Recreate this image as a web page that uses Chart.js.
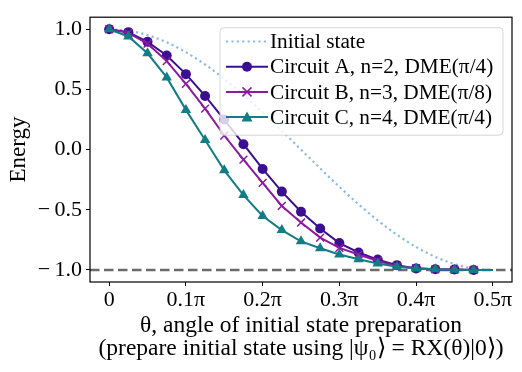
<!DOCTYPE html>
<html>
<head>
<meta charset="utf-8">
<script src="https://cdn.jsdelivr.net/npm/chart.js@4.4.0/dist/chart.umd.min.js"></script>
<style>
    html, body { margin: 0; padding: 0; background: #fff; }
    #wrap { width: 522px; height: 372px; }
</style>
</head>
<body>
<div id="wrap"><canvas id="energyChart" width="522" height="372"></canvas></div>
<script>
// theta, in units of pi
const thetas = [0, 0.025, 0.05, 0.075, 0.1, 0.125, 0.15, 0.175, 0.2, 0.225, 0.25,
    0.275, 0.3, 0.325, 0.35, 0.375, 0.4, 0.425, 0.45, 0.475, 0.5];

const initialState = [1.0, 0.988, 0.951, 0.891, 0.809, 0.707, 0.588, 0.454, 0.309, 0.156, 0.0,
    -0.156, -0.309, -0.454, -0.588, -0.707, -0.809, -0.891, -0.951, -0.988, -1.0];
const circuitA = [1.0, 0.976, 0.895, 0.782, 0.627, 0.446, 0.25, 0.045, -0.161, -0.349, -0.516,
    -0.656, -0.777, -0.855, -0.914, -0.96, -0.987, -0.994, -0.996, -1.0, -1.0];
const circuitB = [1.0, 0.97, 0.88, 0.735, 0.546, 0.34, 0.117, -0.083, -0.277, -0.468, -0.606,
    -0.731, -0.817, -0.871, -0.925, -0.968, -0.985, -0.995, -0.998, -1.0, -1.0];
const circuitC = [1.0, 0.94, 0.80, 0.60, 0.33, 0.08, -0.172, -0.378, -0.552, -0.669, -0.762,
    -0.82, -0.871, -0.911, -0.946, -0.973, -0.987, -0.995, -0.998, -1.0, -1.0];

const seriesLabels = ['Initial state', 'Circuit A, n=2, DME(π/4)', 'Circuit B, n=3, DME(π/8)', 'Circuit C, n=4, DME(π/4)'];
const groundEnergy = -1.0;

const xTicks = [0, 0.1, 0.2, 0.3, 0.4, 0.5];
const xTickLabels = ['0', '0.1π', '0.2π', '0.3π', '0.4π', '0.5π'];
const yTicks = [-1.0, -0.5, 0.0, 0.5, 1.0];
const yTickLabels = ['−\u20091.0', '−\u20090.5', '0.0', '0.5', '1.0'];

const FONT = "'Liberation Serif', 'Times New Roman', serif";
const COLORS = {
    initial: '#8bbde3',
    a: '#3b0f92',
    b: '#8b1a9e',
    c: '#137c85',
    ground: '#6b6b6b'
};

const toPoints = ys => ys.map((y, i) => ({ x: thetas[i], y: y }));
// no marker on the last sample
const markerSize = r => ctx => (ctx.dataIndex === thetas.length - 1 ? 0 : r);

// dashed ground-state line + frame
const extrasPlugin = {
    id: 'extras',
    beforeDatasetsDraw(chart) {
        const { ctx, chartArea } = chart;
        const y = chart.scales.y.getPixelForValue(groundEnergy);
        ctx.save();
        ctx.strokeStyle = COLORS.ground;
        ctx.lineWidth = 2.5;
        ctx.setLineDash([9.5, 4.5]);
        ctx.beginPath();
        ctx.moveTo(chartArea.left, y);
        ctx.lineTo(chartArea.right, y);
        ctx.stroke();
        ctx.restore();
    },
    afterDatasetsDraw(chart) {
        const { ctx, chartArea } = chart;
        ctx.save();
        ctx.strokeStyle = '#000';
        ctx.lineWidth = 1.2;
        ctx.strokeRect(chartArea.left, chartArea.top, chartArea.right - chartArea.left, chartArea.bottom - chartArea.top);
        ctx.restore();
    }
};

// legend box drawn by hand (matplotlib style, over the data)
const legendPlugin = {
    id: 'mplLegend',
    afterDraw(chart) {
        const { ctx, chartArea } = chart;
        const right = chartArea.right - 9;
        const top = chartArea.top + 10.5;
        const left = right - 283;
        const bottom = top + 107.5;
        ctx.save();
        ctx.beginPath();
        ctx.roundRect(left, top, right - left, bottom - top, 4);
        ctx.fillStyle = 'rgba(255,255,255,0.8)';
        ctx.fill();
        ctx.strokeStyle = 'rgba(204,204,204,0.8)';
        ctx.lineWidth = 1;
        ctx.stroke();

        chart.data.datasets.forEach((ds, i) => {
            const y = top + 13.8 + i * 25.2;
            const x0 = left + 6;
            const x1 = x0 + 42;
            ctx.strokeStyle = ds.borderColor;
            ctx.lineWidth = ds.borderWidth;
            ctx.setLineDash(ds.borderDash || []);
            ctx.beginPath();
            ctx.moveTo(x0, y);
            ctx.lineTo(x1, y);
            ctx.stroke();
            ctx.setLineDash([]);

            const cx = (x0 + x1) / 2;
            ctx.fillStyle = ds.borderColor;
            if (ds.pointStyle === 'circle') {
                ctx.beginPath();
                ctx.arc(cx, y, 5, 0, Math.PI * 2);
                ctx.fill();
            } else if (ds.pointStyle === 'crossRot') {
                ctx.lineWidth = 1.5;
                ctx.beginPath();
                ctx.moveTo(cx - 4.5, y - 4.5);
                ctx.lineTo(cx + 4.5, y + 4.5);
                ctx.moveTo(cx - 4.5, y + 4.5);
                ctx.lineTo(cx + 4.5, y - 4.5);
                ctx.stroke();
            } else if (ds.pointStyle === 'triangle') {
                ctx.beginPath();
                ctx.moveTo(cx, y - 5.5);
                ctx.lineTo(cx - 5.5, y + 4.5);
                ctx.lineTo(cx + 5.5, y + 4.5);
                ctx.closePath();
                ctx.fill();
            }

            ctx.fillStyle = '#000';
            ctx.font = '21.3px ' + FONT;
            ctx.textAlign = 'left';
            ctx.textBaseline = 'middle';
            ctx.fillText(ds.label, x1 + 2, y + 1);
        });
        ctx.restore();
    }
};

const chart = new Chart(document.getElementById('energyChart'), {
    type: 'line',
    data: {
        datasets: [
            {
                label: seriesLabels[0],
                data: toPoints(initialState),
                borderColor: COLORS.initial,
                borderWidth: 2.2,
                borderDash: [2.2, 3.2],
                pointRadius: 0,
                cubicInterpolationMode: 'monotone',
                order: 3
            },
            {
                label: seriesLabels[1],
                data: toPoints(circuitA),
                borderColor: COLORS.a,
                backgroundColor: COLORS.a,
                borderWidth: 2,
                pointStyle: 'circle',
                pointRadius: markerSize(5),
                pointBorderWidth: 0,
                order: 2
            },
            {
                label: seriesLabels[2],
                data: toPoints(circuitB),
                borderColor: COLORS.b,
                backgroundColor: COLORS.b,
                borderWidth: 2,
                pointStyle: 'crossRot',
                pointRadius: markerSize(5.5),
                pointBorderWidth: 1.5,
                order: 1
            },
            {
                label: seriesLabels[3],
                data: toPoints(circuitC),
                borderColor: COLORS.c,
                backgroundColor: COLORS.c,
                borderWidth: 2,
                pointStyle: 'triangle',
                pointRadius: markerSize(6),
                pointBorderWidth: 0,
                order: 0
            }
        ]
    },
    options: {
        responsive: false,
        devicePixelRatio: 1,
        animation: false,
        layout: { padding: { top: 10, right: 10, left: 0, bottom: 0 } },
        plugins: {
            legend: { display: false },
            tooltip: { enabled: false }
        },
        scales: {
            x: {
                type: 'linear',
                min: -0.025,
                max: 0.525,
                afterBuildTicks: s => { s.ticks = xTicks.map(v => ({ value: v })); },
                afterFit: s => { s.height = 90; },
                grid: { drawOnChartArea: false, drawTicks: true, tickLength: 4, color: '#000', lineWidth: 1 },
                border: { display: false },
                ticks: {
                    color: '#000',
                    font: { family: FONT, size: 22 },
                    padding: 1,
                    maxRotation: 0,
                    callback: v => xTickLabels[xTicks.indexOf(v)]
                },
                title: {
                    display: true,
                    text: ['θ, angle of initial state preparation', '(prepare initial state using |ψ₀⟩ = RX(θ)|0⟩)'],
                    color: '#000',
                    font: { family: FONT, size: 23.5, lineHeight: 0.98 },
                    padding: { top: 0, bottom: 12 }
                }
            },
            y: {
                type: 'linear',
                min: -1.1,
                max: 1.1,
                afterBuildTicks: s => { s.ticks = yTicks.map(v => ({ value: v })); },
                afterFit: s => { s.width = 90; },
                grid: { drawOnChartArea: false, drawTicks: true, tickLength: 4, color: '#000', lineWidth: 1 },
                border: { display: false },
                ticks: {
                    color: '#000',
                    font: { family: FONT, size: 22 },
                    padding: 4,
                    callback: v => yTickLabels[yTicks.indexOf(v)]
                },
                title: {
                    display: true,
                    text: 'Energy',
                    color: '#000',
                    font: { family: FONT, size: 23 },
                    padding: { top: 5, bottom: 0 }
                }
            }
        }
    },
    plugins: [extrasPlugin, legendPlugin]
});
</script>
</body>
</html>
